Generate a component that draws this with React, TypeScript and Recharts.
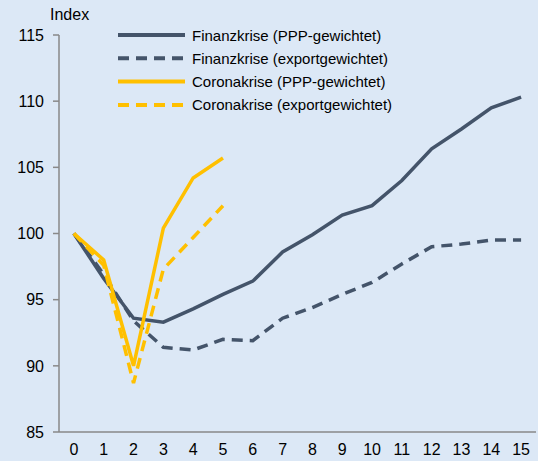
import React from "react";
import { LineChart, Line, XAxis, YAxis } from "recharts";

const periods = ["0", "1", "2", "3", "4", "5", "6", "7", "8", "9", "10", "11", "12", "13", "14", "15"];

const finanzPPP = [100, 96.6, 93.6, 93.3, 94.3, 95.4, 96.4, 98.6, 99.9, 101.4, 102.1, 104.0, 106.4, 107.9, 109.5, 110.3];
const finanzExport = [100, 96.9, 93.4, 91.4, 91.2, 92.0, 91.9, 93.6, 94.4, 95.4, 96.3, 97.7, 99.0, 99.2, 99.5, 99.5];
const coronaPPP = [100, 98.0, 90.0, 100.4, 104.2, 105.7];
const coronaExport = [100, 97.6, 88.7, 97.3, 99.7, 102.1];

const yTicks = [85, 90, 95, 100, 105, 110, 115];

const DARK = "#44546A";
const GOLD = "#FFC000";
const FONT = "'Liberation Sans', Arial, sans-serif";

const data = periods.map((p, i) => ({
  period: p,
  finanzPPP: finanzPPP[i],
  finanzExport: finanzExport[i],
  coronaPPP: coronaPPP[i],
  coronaExport: coronaExport[i]
}));

const legendItems = [
  { label: "Finanzkrise (PPP-gewichtet)", color: DARK, dash: undefined },
  { label: "Finanzkrise (exportgewichtet)", color: DARK, dash: "11 7" },
  { label: "Coronakrise (PPP-gewichtet)", color: GOLD, dash: undefined },
  { label: "Coronakrise (exportgewichtet)", color: GOLD, dash: "11 7" }
];

// legend drawn as an overlay so it doesn't steal plot space
function LegendBox() {
  return (
    <svg width={320} height={92} style={{ position: "absolute", left: 118, top: 27 }}>
      {legendItems.map((it, i) => (
        <g key={it.label} transform={`translate(0, ${i * 23.3 + 8})`}>
          <line x1={0} x2={67} y1={0} y2={0} stroke={it.color} strokeWidth={4} strokeDasharray={it.dash} />
          <text x={74} y={5.5} fontSize={15} fontFamily={FONT} fill="#000">
            {it.label}
          </text>
        </g>
      ))}
    </svg>
  );
}

export default function App() {
  return (
    <div style={{ position: "fixed", left: 0, top: 0, width: 538, height: 461, background: "#DCE8F6" }}>
      <div style={{ position: "absolute", left: 50, top: 6, fontFamily: FONT, fontSize: 16 }}>Index</div>
      <LineChart width={538} height={461} data={data} margin={{ top: 35, right: 2, bottom: 0, left: 0 }}>
        <XAxis
          dataKey="period"
          scale="band"
          height={29}
          stroke="#898989"
          strokeWidth={1.5}
          tickLine={false}
          tickMargin={6}
          tick={{ fontSize: 16, fill: "#000", fontFamily: FONT }}
          interval={0}
        />
        <YAxis
          domain={[85, 115]}
          ticks={yTicks}
          width={59}
          stroke="#898989"
          strokeWidth={1.5}
          tickSize={6}
          tickMargin={9}
          tick={{ fontSize: 16, fill: "#000", fontFamily: FONT }}
          allowDataOverflow
        />
        <Line dataKey="finanzExport" stroke={DARK} strokeWidth={3.5} strokeDasharray="11 7" dot={false} isAnimationActive={false} />
        <Line dataKey="finanzPPP" stroke={DARK} strokeWidth={3.5} dot={false} isAnimationActive={false} />
        <Line dataKey="coronaExport" stroke={GOLD} strokeWidth={3.5} strokeDasharray="11 7" dot={false} isAnimationActive={false} />
        <Line dataKey="coronaPPP" stroke={GOLD} strokeWidth={3.5} dot={false} isAnimationActive={false} />
      </LineChart>
      <LegendBox />
    </div>
  );
}
